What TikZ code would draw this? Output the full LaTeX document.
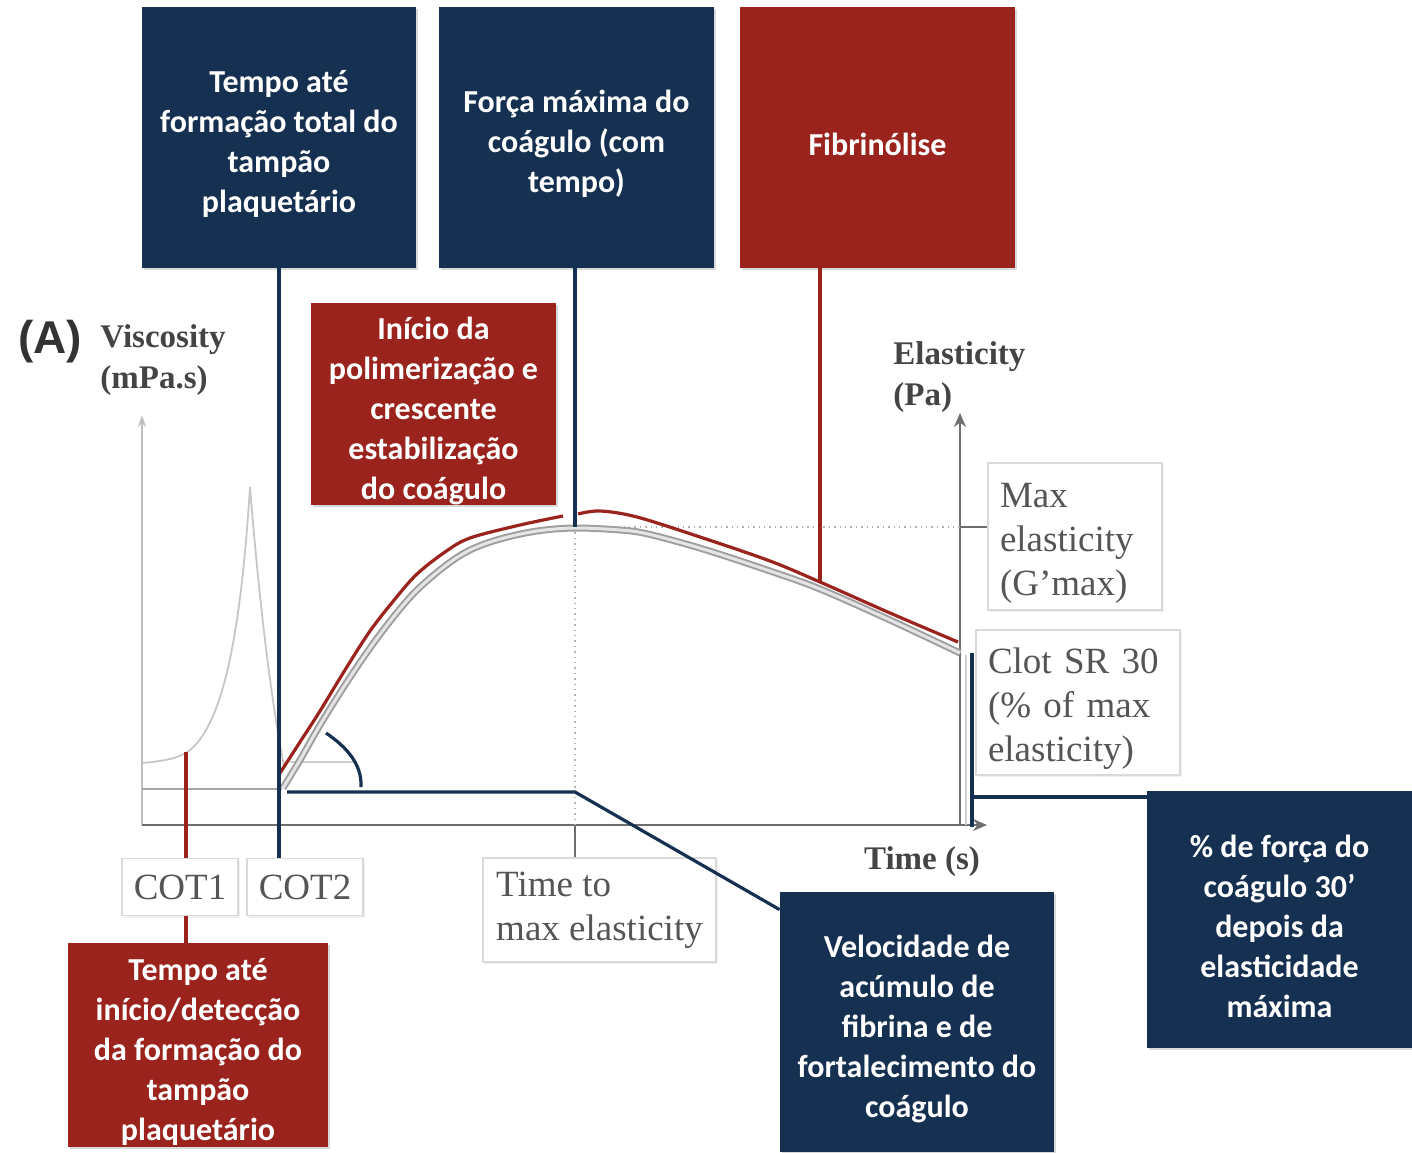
\documentclass[tikz,border=0pt]{standalone}
\usepackage{fontspec}
\newfontfamily\calib{Carlito}
\newfontfamily\tnr{Liberation Serif}
\newfontfamily\arialf{Liberation Sans}
\usetikzlibrary{shadows,arrows.meta,calc}
\definecolor{navy}{RGB}{21,48,80}
\definecolor{dred}{RGB}{155,35,30}
\definecolor{lbl}{RGB}{85,85,85}
\definecolor{axgray}{RGB}{110,110,110}
\newcommand\tstr{\rule{0pt}{18pt}}
\begin{document}
\begin{tikzpicture}[x=0.5pt,y=-0.5pt,
  cbox/.style={inner sep=0pt, align=center, text=white,
    font=\calib\bfseries\fontsize{16}{20}\selectfont,
    drop shadow={shadow xshift=1.2pt,shadow yshift=-1.2pt,opacity=0.3}},
  navybox/.style={cbox, fill=navy},
  redbox/.style={cbox, fill=dred},
  gbox/.style={draw=gray!30, line width=0.8pt, fill=white, inner ysep=0pt, inner xsep=6pt,
    text=lbl, font=\tnr\fontsize{18.5}{22}\selectfont,
    drop shadow={shadow xshift=1pt,shadow yshift=-1pt,opacity=0.12}},
  gboxl/.style={gbox, align=left, execute at begin node={\rule{0pt}{19pt}}},
  axlbl/.style={text=lbl!80!black, font=\tnr\bfseries\fontsize{16.5}{20.5}\selectfont, align=left, inner sep=0pt},
  navyline/.style={draw=navy, line width=1.6pt},
  redline/.style={draw=dred, line width=1.6pt},
  axis/.style={draw=axgray, line width=1.2pt},
  elcurve/.style={draw=gray!75, double=gray!20, line width=1pt, double distance=1.5pt},
  redcurve/.style={draw=dred, line width=1.6pt},
]
\path[use as bounding box] (0,0) rectangle (1412,1152);

% ---------- named points ----------
\coordinate (peak) at (575,527);
\coordinate (fibpt) at (820,582);
\coordinate (c1) at (186,752);
\coordinate (v0) at (287,792);
\coordinate (v1) at (575,792);
\coordinate (cs) at (972,653);
\coordinate (csb) at (972,827);
\coordinate (csh) at (972,797);
\coordinate (maxtick) at (960,527);
\coordinate (ttc) at (575,825);

% ---------- axes ----------
\draw[draw=gray!50, line width=0.7pt, -{Stealth[length=6pt,width=4pt]}] (142,825) -- (142,415);
\draw[axis, -{Stealth[length=7pt,width=6pt]}] (142,825) -- (987,825);
\draw[axis, -{Stealth[length=7pt,width=6pt]}] (960,825) -- (960,413);
\draw[draw=gray!70, line width=1pt] (142,789) -- (282,789);
\draw[draw=gray!35, line width=0.8pt] (966,655) -- (966,825);

% dotted guides
\draw[draw=gray!60, line width=0.7pt, dotted] (peak) -- (maxtick);
\draw[draw=gray!60, line width=0.7pt, dotted] (peak) -- (ttc);

% viscosity curve
\draw[draw=gray!45, line width=0.9pt]
  (142,763) .. controls (165,761) and (180,758) .. (190,750)
  .. controls (224,722) and (241,630) .. (250,487)
  .. controls (259,600) and (271,700) .. (284,766);

% angle marker
\draw[draw=gray!40, line width=1pt] (290,762) -- (355,762);
\draw[navyline] (326,733) .. controls (348,748) and (362,765) .. (361,787);

% elasticity curve (grey band)
\draw[elcurve] plot[smooth, tension=0.55] coordinates {
  (283,788) (300,760) (320,725) (345,685) (370,648) (395,615) (417,590)
  (445,566) (470,550) (500,539) (537,531) (575,528) (620,530) (648,534)
  (703,549) (770,571) (820,589) (890,620) (960,653)};

% red curve
\draw[redcurve] plot[smooth, tension=0.55] coordinates {
  (280,773) (300,742) (320,711) (345,670) (370,631) (395,599) (417,574)
  (445,552) (470,538) (520,525) (563,516)};
\draw[redcurve] plot[smooth, tension=0.55] coordinates {
  (578,514) (600,511) (637,517) (703,538) (770,561) (820,582) (890,613) (958,642)};

% ---------- boxes ----------
\node[navybox, minimum width=137pt, minimum height=130.5pt] (b1) at (279,137.5)
  {\tstr Tempo até\\formação total do\\tampão\\plaquetário};
\node[navybox, minimum width=137.5pt, minimum height=130.5pt] (b2) at (576.5,137.5)
  {\tstr Força máxima do\\coágulo (com\\tempo)};
\node[redbox, minimum width=137.5pt, minimum height=130.5pt] (b3) at (877.5,137.5)
  {\tstr Fibrinólise};
\node[redbox, minimum width=122.5pt, minimum height=101pt] (bm) at (433.5,404)
  {\tstr Início da\\polimerização e\\crescente\\estabilização\\do coágulo};
\node[redbox, minimum width=130pt, minimum height=102pt] (bl) at (198,1045)
  {\tstr Tempo até\\início/detecção\\da formação do\\tampão\\plaquetário};
\node[navybox, minimum width=137pt, minimum height=130pt] (bn) at (917,1022)
  {\tstr Velocidade de\\acúmulo de\\fibrina e de\\fortalecimento do\\coágulo};
\node[navybox, minimum width=132.5pt, minimum height=128.5pt] (br) at (1279.5,919.5)
  {\tstr \% de força do\\coágulo 30’\\depois da\\elasticidade\\máxima};

\node[gbox, minimum width=57pt, minimum height=28.5pt, align=center] (cot1) at (180,887) {COT1};
\node[gbox, minimum width=57pt, minimum height=28.5pt, align=center] (cot2) at (305,887) {COT2};
\node[gboxl, minimum width=116.5pt, minimum height=52pt] (tt) at (599.5,910)
  {Time to\\max elasticity};
\node[gboxl, minimum width=87pt, minimum height=73.5pt, text width=75pt] (mx) at (1075,536.5)
  {Max\\elasticity\\(G’max)};
\node[gboxl, minimum width=102pt, minimum height=72.5pt, text width=90pt] (cl) at (1078,702.5)
  {Clot SR 30\\(\% of max\\elasticity)};

% ---------- labels ----------
\node[text=black!80, font=\arialf\bfseries\fontsize{23}{27}\selectfont, inner sep=0pt] (lA) at (50,342) {(A)};
\node[axlbl, anchor=west] (lv) at (100,360) {Viscosity\\(mPa.s)};
\node[axlbl, anchor=west] (le) at (893,377) {Elasticity\\(Pa)};
\node[axlbl] (lt) at (922,862) {Time (s)};

% ---------- connectors ----------
\draw[navyline] (b1.south) -- (b1.south |- cot2.north);
\draw[navyline] (b2.south -| peak) -- (peak);
\draw[redline] (b3.south -| fibpt) -- (fibpt);
\draw[redline] (c1) -- (c1 |- cot1.north);
\draw[redline] (c1 |- cot1.south) -- (c1 |- bl.north);
\draw[navyline] (v0) -- (v1) -- ($(bn.north west)+(0,18)$);
\draw[navyline] (cs) -- (csb);
\draw[navyline] (csh) -- (csh -| br.west);
\draw[draw=axgray, line width=1pt] (maxtick) -- (maxtick -| mx.west);
\draw[draw=axgray, line width=1pt] (ttc) -- (ttc |- tt.north);
\end{tikzpicture}
\end{document}
